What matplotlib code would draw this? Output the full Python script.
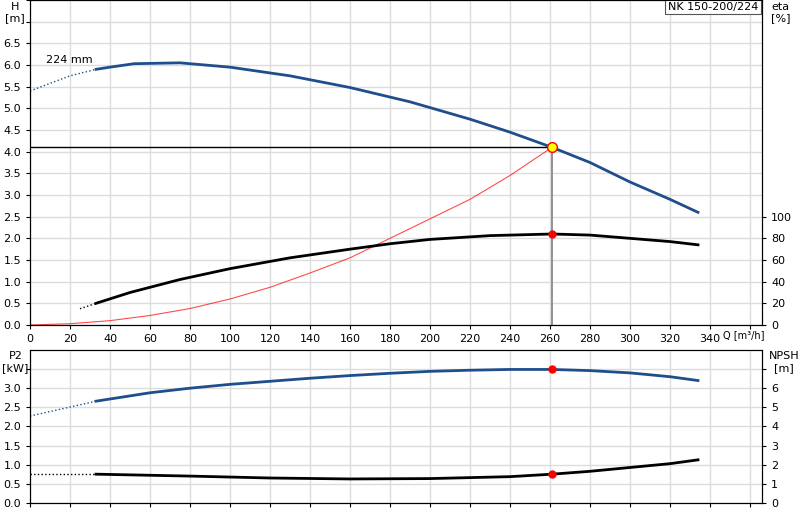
import matplotlib
matplotlib.use('Agg')
import matplotlib.pyplot as plt
import numpy as np

# pump curve H(Q)
q_h_dash = [0, 20, 33]
h_dash = [5.4, 5.75, 5.9]
q_h = [33, 40, 52, 75, 100, 130, 160, 190, 220, 240, 261, 280, 300, 320, 334]
h = [5.9, 5.95, 6.03, 6.05, 5.95, 5.75, 5.48, 5.15, 4.75, 4.45, 4.1, 3.75, 3.3, 2.9, 2.6]

# efficiency [%]
q_eta_dash = [25, 33]
eta_dash = [15, 20]
q_eta = [33, 50, 75, 100, 130, 160, 180, 200, 230, 261, 280, 300, 320, 334]
eta = [20, 30, 42, 52, 62, 70, 75, 79, 82.5, 84, 83, 80, 77, 74]

# system curve
q_sys = [0, 20, 40, 60, 80, 100, 120, 140, 160, 180, 200, 220, 240, 261]
h_sys = [0, 0.03, 0.1, 0.22, 0.38, 0.6, 0.87, 1.2, 1.55, 2.0, 2.45, 2.9, 3.45, 4.1]

# P2 [kW]
q_p_dash = [0, 33]
p_dash = [2.27, 2.66]
q_p = [33, 60, 80, 100, 120, 140, 160, 180, 200, 220, 240, 261, 280, 300, 320, 334]
p2 = [2.66, 2.88, 3.0, 3.1, 3.18, 3.26, 3.33, 3.39, 3.44, 3.47, 3.49, 3.49, 3.46, 3.4, 3.3, 3.2]

# NPSH [m]
q_n_dash = [0, 33]
n_dash = [1.5, 1.5]
q_n = [33, 80, 120, 160, 200, 240, 261, 280, 300, 320, 334]
npsh = [1.5, 1.4, 1.3, 1.25, 1.27, 1.37, 1.5, 1.65, 1.85, 2.05, 2.25]

q_op, h_op, eta_op, p_op, n_op = 261, 4.1, 84, 3.49, 1.5

blue = '#1f4e8c'
grid_kw = dict(color='#dcdcdc', linewidth=1.0)
fs = 8

fig = plt.figure(figsize=(8, 5.2), dpi=100)
ax = fig.add_axes([0.0375, 0.375, 0.915, 0.625])
ax.set_xlim(0, 366)
ax.set_ylim(0, 7.5)
ax.set_xticks(np.arange(0, 361, 20))
ax.set_xticklabels([str(v) if v <= 340 else '' for v in range(0, 361, 20)])
ax.set_yticks(np.arange(0, 7.51, 0.5))
ax.set_yticklabels(['%.1f' % v if v <= 6.5 else '' for v in np.arange(0, 7.51, 0.5)])
ax.grid(True, **grid_kw)
ax.tick_params(labelsize=fs, length=3)
ax.plot(q_h_dash, h_dash, ':', color=blue, lw=1)
ax.plot(q_h, h, color=blue, lw=2)
ax.plot(q_sys, h_sys, color='red', lw=0.8, alpha=0.7)
ax.plot([0, q_op], [h_op, h_op], color='black', lw=1)
ax.plot([q_op, q_op], [0, h_op], color='gray', lw=1.2)
ax.plot(q_op, h_op, 'o', ms=7, mfc='yellow', mec='red', mew=1, zorder=5)
ax.text(8, 6.05, '224 mm', fontsize=fs)
ax.text(-0.02, 0.995, 'H\n[m]', transform=ax.transAxes, fontsize=fs, ha='center', va='top')
ax.text(346.5, -0.12, 'Q [m³/h]', fontsize=7, ha='left', va='top')
ax.text(0.995, 0.995, 'NK 150-200/224', transform=ax.transAxes, fontsize=fs,
        ha='right', va='top', bbox=dict(fc='white', ec='#555555', lw=0.8, pad=2))
ax.text(1.025, 0.995, 'eta\n[%]', transform=ax.transAxes, fontsize=fs, ha='center', va='top')

ax2 = ax.twinx()
ax2.set_ylim(0, 300)
ax2.set_yticks(range(0, 101, 20))
ax2.tick_params(labelsize=fs, length=3)
ax2.plot(q_eta_dash, eta_dash, ':', color='black', lw=1)
ax2.plot(q_eta, eta, color='black', lw=2)
ax2.plot(q_op, eta_op, 'o', ms=5, color='red', zorder=5)

bx = fig.add_axes([0.0375, 0.033, 0.915, 0.294])
bx.set_xlim(0, 366)
bx.set_ylim(0, 4.0)
bx.set_xticks(np.arange(0, 361, 20))
bx.set_xticklabels([])
bx.set_yticks(np.arange(0, 3.51, 0.5))
bx.set_yticklabels(['%.1f' % v if v <= 3.0 else '' for v in np.arange(0, 3.51, 0.5)])
bx.grid(True, **grid_kw)
bx.tick_params(labelsize=fs, length=3)
bx.plot(q_p_dash, p_dash, ':', color=blue, lw=1)
bx.plot(q_p, p2, color=blue, lw=2)
bx.plot(q_op, p_op, 'o', ms=5, color='red', zorder=5)
bx.text(-0.02, 0.99, 'P2\n[kW]', transform=bx.transAxes, fontsize=fs, ha='center', va='top')
bx.text(1.03, 0.99, 'NPSH\n[m]', transform=bx.transAxes, fontsize=fs, ha='center', va='top')

bx2 = bx.twinx()
bx2.set_ylim(0, 8)
bx2.set_yticks(range(0, 8))
bx2.set_yticklabels([str(v) if v < 7 else '' for v in range(0, 8)])
bx2.tick_params(labelsize=fs, length=3)
bx2.plot(q_n_dash, n_dash, ':', color='black', lw=1)
bx2.plot(q_n, npsh, color='black', lw=2)
bx2.plot(q_op, n_op, 'o', ms=5, color='red', zorder=5)

fig.savefig('out.png', dpi=100)
